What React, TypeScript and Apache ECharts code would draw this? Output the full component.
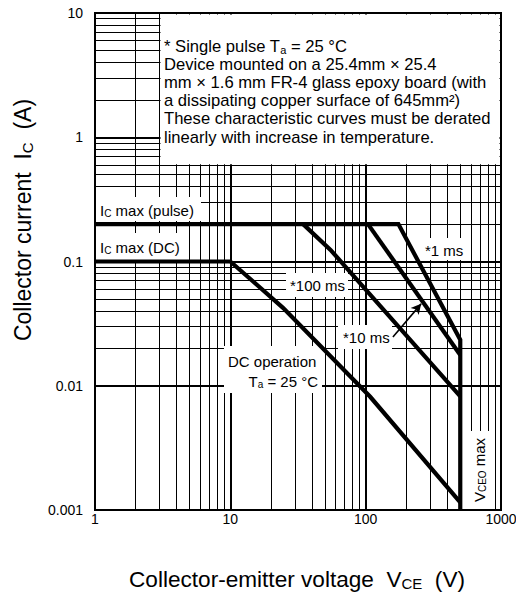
import React, { useEffect, useRef } from "react";
import * as echarts from "echarts";

const FONT = '"Liberation Sans", Arial, Helvetica, sans-serif';

// ---- axis / grid values ----
const xMin = 1;
const xMax = 1000;
const yMin = 0.001;
const yMax = 10;
const xTickLabels = ["1", "10", "100", "1000"];
const yTickLabels = ["0.001", "0.01", "0.1", "1", "10"];
const xMinorGrid = [2, 3, 4, 5, 6, 7, 8, 9, 20, 30, 40, 50, 60, 70, 80, 90, 200, 300, 400, 500, 600, 700, 800, 900];
const xMajorGrid = [10, 100];
const yMinorGrid = [
  0.002, 0.003, 0.004, 0.005, 0.006, 0.007, 0.008, 0.009,
  0.02, 0.03, 0.04, 0.05, 0.06, 0.07, 0.08, 0.09,
  0.2, 0.3, 0.4, 0.5, 0.6, 0.7, 0.8, 0.9,
  2, 3, 4, 5, 6, 7, 8, 9,
];
const yMajorGrid = [0.01, 0.1, 1];

// ---- curves (V_CE in V, I_C in A) ----
const dcVoltage = [1, 10, 24.5, 108, 500];
const dcCurrent = [0.1, 0.1, 0.0424, 0.00815, 0.00115];
const ms100Voltage = [34.5, 55, 500];
const ms100Current = [0.2, 0.124, 0.0082];
const ms10Voltage = [104, 500];
const ms10Current = [0.2, 0.0177];
const ms1Voltage = [1, 174.5, 500, 500];
const ms1Current = [0.2, 0.2, 0.0234, 0.001];
const arrowFrom = [159, 0.0247];
const arrowTo = [257, 0.0456];

const zip = (xs: number[], ys: number[]) => xs.map((x, i) => [x, ys[i]]);

const annotationLines = [
  "* Single pulse T{sub|a} = 25 °C",
  "Device mounted on a 25.4mm × 25.4",
  "mm × 1.6 mm FR-4 glass epoxy board (with",
  "a dissipating copper surface of 645mm²)",
  "These characteristic curves must be derated",
  "linearly with increase in temperature.",
];

function text(
  t: string,
  x: number,
  y: number,
  size: number,
  subSize: number,
  subPad: number,
  align = "left",
  extra: any = {}
) {
  return {
    type: "text",
    z: 30,
    x,
    y,
    silent: true,
    ...extra,
    style: {
      text: t,
      fontSize: size,
      fontFamily: FONT,
      fill: "#000",
      align,
      verticalAlign: "middle",
      rich: {
        sub: { fontSize: subSize, fontFamily: FONT, fill: "#000", padding: [subPad, 0, 0, 0] },
      },
    },
  };
}

function mask(x: number, y: number, w: number, h: number) {
  return {
    type: "rect",
    z: 20,
    silent: true,
    shape: { x, y, width: w, height: h },
    style: { fill: "#fff" },
  };
}

export default function App() {
  const ref = useRef<HTMLDivElement>(null);
  useEffect(() => {
    if (!ref.current) return;
    const chart = echarts.init(ref.current, null, { renderer: "svg" });
    const curveStyle = { color: "#000", width: 4.2, join: "miter" };
    const gridLines = [
      ...xMinorGrid.map((v) => ({ xAxis: v, lineStyle: { width: 1, color: "#000", type: "solid" } })),
      ...xMajorGrid.map((v) => ({ xAxis: v, lineStyle: { width: 2, color: "#000", type: "solid" } })),
      ...yMinorGrid.map((v) => ({ yAxis: v, lineStyle: { width: 1, color: "#000", type: "solid" } })),
      ...yMajorGrid.map((v) => ({ yAxis: v, lineStyle: { width: 2, color: "#000", type: "solid" } })),
    ];
    const labelFor = (labels: string[], min: number) => (v: number) => {
      const i = Math.round(Math.log10(v)) - Math.round(Math.log10(min));
      return labels[i] ?? "";
    };
    const option: any = {
      animation: false,
      backgroundColor: "#fff",
      grid: {
        left: 95,
        top: 13,
        width: 406,
        height: 497,
        show: true,
        borderColor: "#000",
        borderWidth: 2,
        backgroundColor: "#fff",
        containLabel: false,
        outerBoundsMode: "none",
      },
      xAxis: {
        type: "log",
        logBase: 10,
        min: xMin,
        max: xMax,
        axisLine: { show: false },
        axisTick: { show: false },
        splitLine: { show: false },
        axisLabel: {
          margin: 2,
          fontSize: 14,
          fontFamily: FONT,
          color: "#000",
          showMinLabel: true,
          showMaxLabel: true,
          formatter: labelFor(xTickLabels, xMin),
        },
      },
      yAxis: {
        type: "log",
        logBase: 10,
        min: yMin,
        max: yMax,
        axisLine: { show: false },
        axisTick: { show: false },
        splitLine: { show: false },
        axisLabel: {
          margin: 12,
          fontSize: 14,
          fontFamily: FONT,
          color: "#000",
          showMinLabel: true,
          showMaxLabel: true,
          formatter: labelFor(yTickLabels, yMin),
        },
      },
      series: [
        {
          type: "line",
          name: "grid",
          z: 1,
          silent: true,
          data: [[xMin, yMin]],
          symbol: "none",
          lineStyle: { width: 0 },
          markLine: {
            silent: true,
            animation: false,
            symbol: ["none", "none"],
            label: { show: false },
            emphasis: { disabled: true },
            lineStyle: { color: "#000", width: 1, type: "solid" },
            data: gridLines,
          },
        },
        { type: "line", name: "DC", z: 40, silent: true, symbol: "none", data: zip(dcVoltage, dcCurrent), lineStyle: curveStyle },
        { type: "line", name: "100 ms", z: 40, silent: true, symbol: "none", data: zip(ms100Voltage, ms100Current), lineStyle: curveStyle },
        { type: "line", name: "10 ms", z: 40, silent: true, symbol: "none", data: zip(ms10Voltage, ms10Current), lineStyle: curveStyle },
        { type: "line", name: "1 ms", z: 40, silent: true, symbol: "none", data: zip(ms1Voltage, ms1Current), lineStyle: curveStyle },
        {
          type: "line",
          name: "arrow",
          z: 40,
          silent: true,
          symbol: "none",
          data: [arrowFrom],
          lineStyle: { width: 0 },
          markLine: {
            silent: true,
            animation: false,
            symbol: ["none", "arrow"],
            symbolSize: [8, 10],
            label: { show: false },
            emphasis: { disabled: true },
            lineStyle: { color: "#000", width: 1.6, type: "solid" },
            data: [[{ coord: arrowFrom }, { coord: arrowTo }]],
          },
        },
      ],
      graphic: {
        elements: [
          mask(160.5, 14.5, 339, 149.8),
          mask(96, 197, 105, 24),
          mask(96, 233, 91, 27),
          mask(420, 238, 46, 22),
          mask(286, 273, 62, 24),
          mask(338, 325, 54, 24),
          mask(224, 346, 98, 47),
          mask(469, 431, 20, 78),
          ...annotationLines.map((l, i) => text(l, 164, 46.5 + i * 18.1, 16.6, 11, 7)),
          text("I{sub|C} max (pulse)", 100, 210, 15, 10, 7),
          text("I{sub|C} max (DC)", 100, 247, 15, 10, 7),
          text("*1 ms", 425, 250, 15, 10, 7),
          text("*100 ms", 290, 285, 15, 10, 7),
          text("*10 ms", 343, 337, 15, 10, 7),
          text("DC operation", 228, 361, 15, 10, 7),
          text("T{sub|a} = 25 °C", 318, 381, 15, 10, 7, "right"),
          text("V{sub|CEO} max", 479, 470, 15, 10, 7, "center", { rotation: Math.PI / 2 }),
          text("Collector-emitter voltage  V{sub|CE}  (V)", 297, 579, 22.6, 15, 9, "center"),
          text("Collector current  I{sub|C}  (A)", 23, 220, 23, 15, 9, "center", { rotation: Math.PI / 2 }),
        ],
      },
    };
    chart.setOption(option);
    return () => chart.dispose();
  }, []);
  return (
    <div
      ref={ref}
      style={{ position: "fixed", left: 0, top: 0, width: 516, height: 595, background: "#fff" }}
    />
  );
}
